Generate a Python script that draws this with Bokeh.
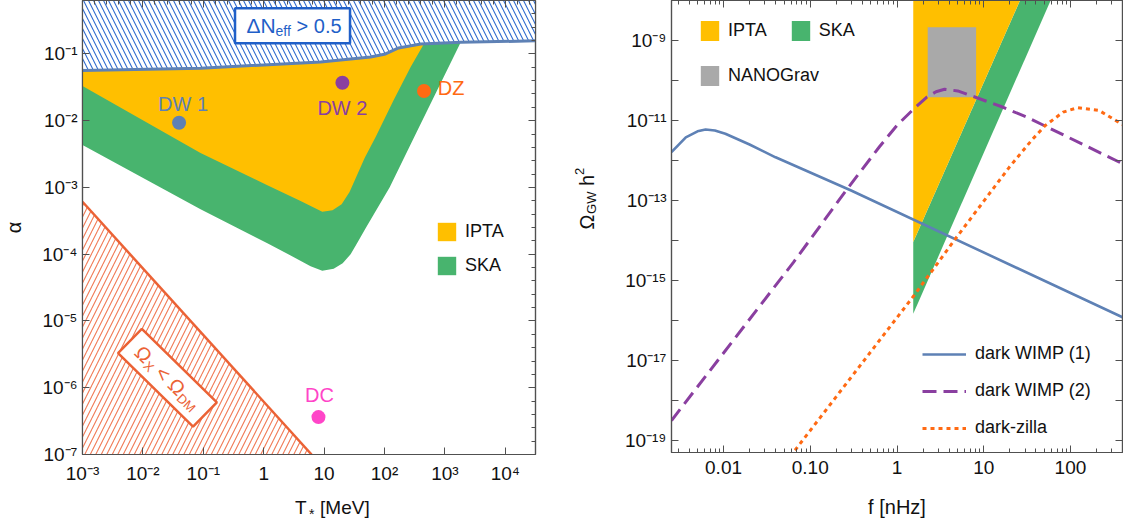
import math
from bokeh.plotting import figure
from bokeh.layouts import row, column
from bokeh.models import (LogAxis, FixedTicker, CustomJSTickFormatter, Legend,
                          LegendItem, Label, ColumnDataSource)
from bokeh.embed import file_html
from bokeh.resources import INLINE
from bokeh.core.properties import value

FONT = "Liberation Sans"
AXC = "#505050"
TXT = "#111111"

# ============================ data: left panel ============================
# boundary of the Delta N_eff > 0.5 exclusion (alpha vs T* [MeV])
neff_T = [1e-3, 0.09, 8.75, 59.0, 104.0, 171.0, 398.0, 1830.0, 31600.0]
neff_alpha = [0.0562, 0.061, 0.0759, 0.090, 0.100, 0.123, 0.141, 0.149, 0.157]

# lower / right edge of the IPTA region
ipta_low_T = [1e-3, 0.09, 1.15, 4.08, 9.33, 13.8, 19.5, 26.4, 34.6, 46.9, 71.3, 142.0,
              271.0, 446.0]
ipta_low_alpha = [0.0331, 3.27e-3, 1.08e-3, 6.24e-4, 4.31e-4, 4.57e-4, 5.62e-4, 8.51e-4,
                  1.48e-3, 2.75e-3, 5.69e-3, 0.0204, 0.0638, 0.140]

# lower / right edge of the SKA region
ska_low_T = [1e-3, 0.09, 1.15, 3.16, 5.97, 9.33, 14.4, 20.3, 27.5, 35.9, 48.7, 122.0,
             354.0, 1830.0]
ska_low_alpha = [4.31e-3, 4.73e-4, 1.46e-4, 9.02e-5, 6.61e-5, 5.66e-5, 6.07e-5, 7.33e-5,
                 1.0e-4, 1.51e-4, 2.45e-4, 1.01e-3, 7.24e-3, 0.149]

# Omega_X < Omega_DM boundary
relic_T = [1e-3, 6.2]
relic_alpha = [6.1e-4, 1e-7]

# benchmark points
bench_names = ["DW 1", "DW 2", "DZ", "DC"]
bench_T = [0.0397, 20.1, 451.0, 8.07]
bench_alpha = [0.0093, 0.037, 0.0279, 3.63e-7]
bench_colors = ["#5E81B5", "#8A3FA0", "#FF6A13", "#FF45C8"]

left_x_ticks = [1e-3, 1e-2, 1e-1, 1.0, 10.0, 100.0, 1e3, 1e4]
left_x_labels = ["10⁻³", "10⁻²", "10⁻¹", "1", "10", "10²", "10³", "10⁴"]
left_y_ticks = [1e-7, 1e-6, 1e-5, 1e-4, 1e-3, 1e-2, 1e-1]
left_y_labels = ["10⁻⁷", "10⁻⁶", "10⁻⁵", "10⁻⁴", "10⁻³", "10⁻²", "10⁻¹"]

# ============================ data: right panel ===========================
wimp1_logf = [-2.6, -2.435, -2.3, -2.207, -2.1, -1.979, -1.7, -1.4, -0.529, 2.6]
wimp1_logO = [-11.79, -11.42, -11.27, -11.225, -11.25, -11.33, -11.60, -11.92, -12.75, -15.92]
wimp2_logf = [-2.6, -1.192, -0.57, -0.2, 0.0, 0.188, 0.341, 0.45, 0.548, 0.7, 0.88, 1.2,
              1.501, 2.6]
wimp2_logO = [-18.5, -14.54, -12.70, -11.65, -11.12, -10.72, -10.42, -10.28, -10.22,
              -10.26, -10.40, -10.65, -10.92, -12.08]
zilla_logf = [-1.4, -1.192, 0.196, 0.673, 1.294, 1.55, 1.709, 1.916, 2.082, 2.33, 2.6]
zilla_logO = [-19.88, -19.29, -15.375, -13.96, -12.17, -11.5, -11.125, -10.79, -10.68,
              -10.75, -11.1]

ipta_f = [1.54, 1.54, 26.2]
ipta_O = [1e-8, 9.12e-15, 1e-8]
ska_f = [1.54, 1.54, 59.0, 26.2]
ska_O = [9.12e-15, 1.48e-16, 1e-8, 1e-8]
nano_f = [2.26, 8.17]
nano_O = [3.8e-11, 2.14e-9]

right_x_ticks = [0.01, 0.1, 1.0, 10.0, 100.0]
right_x_labels = ["0.01", "0.10", "1", "10", "100"]
right_y_ticks = [1e-19, 1e-18, 1e-17, 1e-16, 1e-15, 1e-14, 1e-13, 1e-12, 1e-11,
                 1e-10, 1e-9, 1e-8]
right_y_labels = ["10⁻¹⁹", "", "10⁻¹⁷", "", "10⁻¹⁵", "", "10⁻¹³", "", "10⁻¹¹", "",
                  "10⁻⁹", ""]

# ================================ colours ================================
YEL = "#FFBF00"
GRN = "#48B46E"
GRAY = "#A9A9A9"
BLUE_HATCH = "#2F6BD0"
BLUE_BOX = "#1F5FC8"
NEFF_LINE = "#5E81B5"
OR_LINE = "#EB6235"
OR_HATCH = "#F07A55"
C_W1 = "#5E81B5"
C_W2 = "#8A3FA0"
C_ZI = "#FF6A13"


def pw(arr):
    return [10.0 ** v for v in arr]


def setup_axis(ax, ticks, minor, labels, show=True, standoff=6, tick_in=7, minor_in=4):
    ax.ticker = FixedTicker(ticks=ticks, minor_ticks=minor)
    exps = [int(round(math.log10(t))) for t in ticks]
    labs = labels if show else [""] * len(ticks)
    ax.formatter = CustomJSTickFormatter(args=dict(exps=exps, labs=labs), code="""
        const e = Math.round(Math.log10(tick));
        for (let i = 0; i < exps.length; i++) { if (exps[i] === e) { return labs[i]; } }
        return "";
    """)
    ax.major_tick_in = tick_in
    ax.major_tick_out = 0
    ax.minor_tick_in = minor_in
    ax.minor_tick_out = 0
    ax.axis_line_color = AXC
    ax.major_tick_line_color = AXC
    ax.minor_tick_line_color = AXC
    ax.axis_line_width = 1.2
    ax.major_label_text_font = FONT
    ax.major_label_text_color = TXT
    if show:
        ax.major_label_text_font_size = "19px"
        ax.major_label_standoff = standoff
    else:
        ax.major_label_text_font_size = "0px"
        ax.major_label_standoff = 0
        ax.axis_label_standoff = 0
    ax.axis_label_text_font = FONT
    ax.axis_label_text_font_style = "normal"
    ax.axis_label_text_font_size = "20px"
    ax.axis_label_text_color = TXT


def pieces(p, x, y, parts, angle=0.0, color=TXT):
    """Place several text pieces along a (possibly rotated) baseline.
    parts: (text, size_px, along_px, up_px)"""
    ca, sa = math.cos(angle), math.sin(angle)
    for text, size, d, s in parts:
        p.add_layout(Label(x=x, y=y, x_offset=d * ca - s * sa, y_offset=d * sa + s * ca,
                           text=text, angle=angle, text_font=FONT,
                           text_font_size=f"{size}px", text_color=color,
                           text_align="left", text_baseline="middle"))


def style_fig(p):
    p.xgrid.visible = False
    p.ygrid.visible = False
    p.outline_line_color = AXC
    p.outline_line_width = 1.2
    p.background_fill_color = "white"
    p.border_fill_color = "white"


def text_canvas(w, h):
    c = figure(x_range=(0, w), y_range=(0, h), width=w, height=h, min_border=0,
               x_axis_location=None, y_axis_location=None, output_backend="svg",
               toolbar_location=None)
    c.xgrid.visible = False
    c.ygrid.visible = False
    c.outline_line_color = None
    c.background_fill_color = "white"
    c.border_fill_color = "white"
    return c


# ================================ left figure ================================
X1 = (1e-3, 10 ** 4.5)
Y1 = (1e-7, 10 ** -0.2)
p1 = figure(x_axis_type="log", y_axis_type="log", x_range=X1, y_range=Y1,
            frame_width=453, frame_height=454,
            min_border_left=82, min_border_right=25, min_border_top=0, min_border_bottom=33,
            output_backend="svg", toolbar_location=None)
style_fig(p1)

minor_left_x = [10 ** (k + j / 5) for k in range(-3, 5) for j in range(1, 5)]
minor_left_y = [10 ** (k + j / 5) for k in range(-7, 0) for j in range(1, 5)]

bx1 = p1.xaxis[0]
ly1 = p1.yaxis[0]
setup_axis(bx1, left_x_ticks, [], left_x_labels, standoff=8)
setup_axis(ly1, left_y_ticks, [], left_y_labels, standoff=5)
top1 = LogAxis()
p1.add_layout(top1, "above")
setup_axis(top1, left_x_ticks, minor_left_x, left_x_labels, show=False)
right1 = LogAxis()
p1.add_layout(right1, "right")
setup_axis(right1, left_y_ticks, minor_left_y, left_y_labels, show=False)
ly1.axis_label = "α"
ly1.axis_label_standoff = 14

# SKA (green) region
top_ska = [(t, a) for t, a in zip(neff_T, neff_alpha) if t < ska_low_T[-1]]
ska_x = [t for t, _ in top_ska] + ska_low_T[::-1]
ska_y = [a for _, a in top_ska] + ska_low_alpha[::-1]
r1_ska = p1.patch(ska_x, ska_y, fill_color=GRN, line_color=None)

# IPTA (yellow) region
top_ipta = [(t, a) for t, a in zip(neff_T, neff_alpha) if t < ipta_low_T[-1]]
ipta_x = [t for t, _ in top_ipta] + ipta_low_T[::-1]
ipta_y = [a for _, a in top_ipta] + ipta_low_alpha[::-1]
r1_ipta = p1.patch(ipta_x, ipta_y, fill_color=YEL, line_color=None)

# Delta N_eff exclusion (hatched)
ALPHA_CEIL = 1.0
neff_px = neff_T + [neff_T[-1], neff_T[0]]
neff_py = neff_alpha + [ALPHA_CEIL, ALPHA_CEIL]
p1.patch(neff_px, neff_py, fill_color="white", line_color=None,
         hatch_pattern="\\", hatch_color=BLUE_HATCH, hatch_scale=10, hatch_weight=1.1)
p1.line(neff_T, neff_alpha, line_color=NEFF_LINE, line_width=3)

# Omega_X < Omega_DM exclusion (hatched)
relic_px = relic_T + [relic_T[0]]
relic_py = relic_alpha + [relic_alpha[-1]]
p1.patch(relic_px, relic_py, fill_color="white", line_color=None,
         hatch_pattern="/", hatch_color=OR_HATCH, hatch_scale=11, hatch_weight=1.1)
p1.line(relic_T, relic_alpha, line_color=OR_LINE, line_width=2.5)

# label boxes
p1.rect(x=[3.0], y=[0.265], width=115, height=35, width_units="screen", height_units="screen",
        fill_color="white", line_color=BLUE_BOX, line_width=2.5)
pieces(p1, 3.0, 0.265, [("ΔN", 21, -46, 0), ("eff", 14, -17, -5), ("> 0.5", 20, 4, 0)],
       color=BLUE_BOX)

ORA_ANG = -0.775
p1.rect(x=[0.0255], y=[1.41e-6], width=105, height=34, width_units="screen",
        height_units="screen", angle=ORA_ANG, fill_color="white", line_color=OR_LINE,
        line_width=2.5)
pieces(p1, 0.0255, 1.41e-6, [("Ω", 20, -41, 0), ("X", 13, -25.5, -5), ("<", 20, -12, 0),
                            ("Ω", 20, 5.5, 0), ("DM", 13, 21, -5)],
       angle=ORA_ANG, color=OR_LINE)

# benchmark points
bsrc = ColumnDataSource(dict(T=bench_T, a=bench_alpha, name=bench_names, c=bench_colors,
                             dx=[4, 0, 27, 1], dy=[-19, 25, -3, -22]))
p1.scatter("T", "a", source=bsrc, size=14, color="c", line_color=None)
p1.text("T", "a", text="name", source=bsrc, x_offset="dx", y_offset="dy",
        text_color="c", text_font=value(FONT), text_font_size="20px",
        text_align="center", text_baseline="middle")

# legend (left)
leg1 = Legend(items=[LegendItem(label="IPTA", renderers=[r1_ipta]),
                     LegendItem(label="SKA", renderers=[r1_ska])],
              location=(353, 177), orientation="vertical", glyph_width=23, glyph_height=23,
              spacing=11, label_standoff=7, padding=0, margin=0, border_line_color=None,
              background_fill_alpha=0, label_text_font=FONT, label_text_font_size="18px",
              label_text_color=TXT)
p1.add_layout(leg1)

# x-axis title of the left panel:  T_* [MeV]
xlab1 = text_canvas(560, 36)
pieces(xlab1, 308.5, 16, [("T", 19, -37, 0), ("*", 14, -23, -6), ("[MeV]", 19, -12, 0)])

# y-axis title of the right panel:  Omega_GW h^2 (rotated)
ylab2 = text_canvas(50, 523)
pieces(ylab2, 26, 294, [("Ω", 20, -31, 0), ("GW", 13, -15.5, -5), ("h", 20, 12.5, 0),
                        ("2", 13, 23.5, 7)], angle=math.pi / 2)

# ================================ right figure ================================
X2 = (10 ** -2.6, 10 ** 2.6)
Y2 = (10 ** -19.3, 1e-8)
p2 = figure(x_axis_type="log", y_axis_type="log", x_range=X2, y_range=Y2,
            frame_width=451, frame_height=452,
            min_border_left=61, min_border_right=1, min_border_top=0, min_border_bottom=71,
            output_backend="svg", toolbar_location=None)
style_fig(p2)

minor_right_x = [m * 10.0 ** k for k in range(-3, 3) for m in range(2, 10)]
bx2 = p2.xaxis[0]
ly2 = p2.yaxis[0]
setup_axis(bx2, right_x_ticks, minor_right_x, right_x_labels, standoff=8)
setup_axis(ly2, right_y_ticks, [], right_y_labels, standoff=5)
top2 = LogAxis()
p2.add_layout(top2, "above")
setup_axis(top2, right_x_ticks, minor_right_x, right_x_labels, show=False)
right2 = LogAxis()
p2.add_layout(right2, "right")
setup_axis(right2, right_y_ticks, [], right_y_labels, show=False)
bx2.axis_label = "f [nHz]"
bx2.axis_label_standoff = 19

# regions
r_ska = p2.patch(ska_f, ska_O, fill_color=GRN, line_color=None)
r_ipta = p2.patch(ipta_f, ipta_O, fill_color=YEL, line_color=None)
r_nano = p2.quad(left=[nano_f[0]], right=[nano_f[1]], bottom=[nano_O[0]], top=[nano_O[1]],
                 fill_color=GRAY, line_color=None)

# spectra
l1 = p2.line(pw(wimp1_logf), pw(wimp1_logO), line_color=C_W1, line_width=2.6)
l2 = p2.line(pw(wimp2_logf), pw(wimp2_logO), line_color=C_W2, line_width=3,
             line_dash="14 7")
l3 = p2.line(pw(zilla_logf), pw(zilla_logO), line_color=C_ZI, line_width=3,
             line_dash="4 4")

# legends (right)
common = dict(padding=0, margin=0, border_line_color=None, background_fill_alpha=0,
              label_text_font=FONT, label_text_font_size="18px", label_text_color=TXT)
legA = Legend(items=[LegendItem(label="IPTA", renderers=[r_ipta]),
                     LegendItem(label="SKA", renderers=[r_ska])],
              location=(27, 409), orientation="horizontal", glyph_width=23, glyph_height=25,
              spacing=22, label_standoff=7, **common)
legB = Legend(items=[LegendItem(label="NANOGrav", renderers=[r_nano])],
              location=(27, 364), orientation="horizontal", glyph_width=23, glyph_height=25,
              label_standoff=7, **common)
legC = Legend(items=[LegendItem(label="dark WIMP (1)", renderers=[l1]),
                     LegendItem(label="dark WIMP (2)", renderers=[l2]),
                     LegendItem(label="dark-zilla", renderers=[l3])],
              location=(251, 14), orientation="vertical", glyph_width=44, glyph_height=20,
              spacing=16, label_standoff=9, **common)
p2.add_layout(legA)
p2.add_layout(legB)
p2.add_layout(legC)

layout = row(column(p1, xlab1), ylab2, p2)
open("out.html", "w").write(file_html(layout, INLINE))
